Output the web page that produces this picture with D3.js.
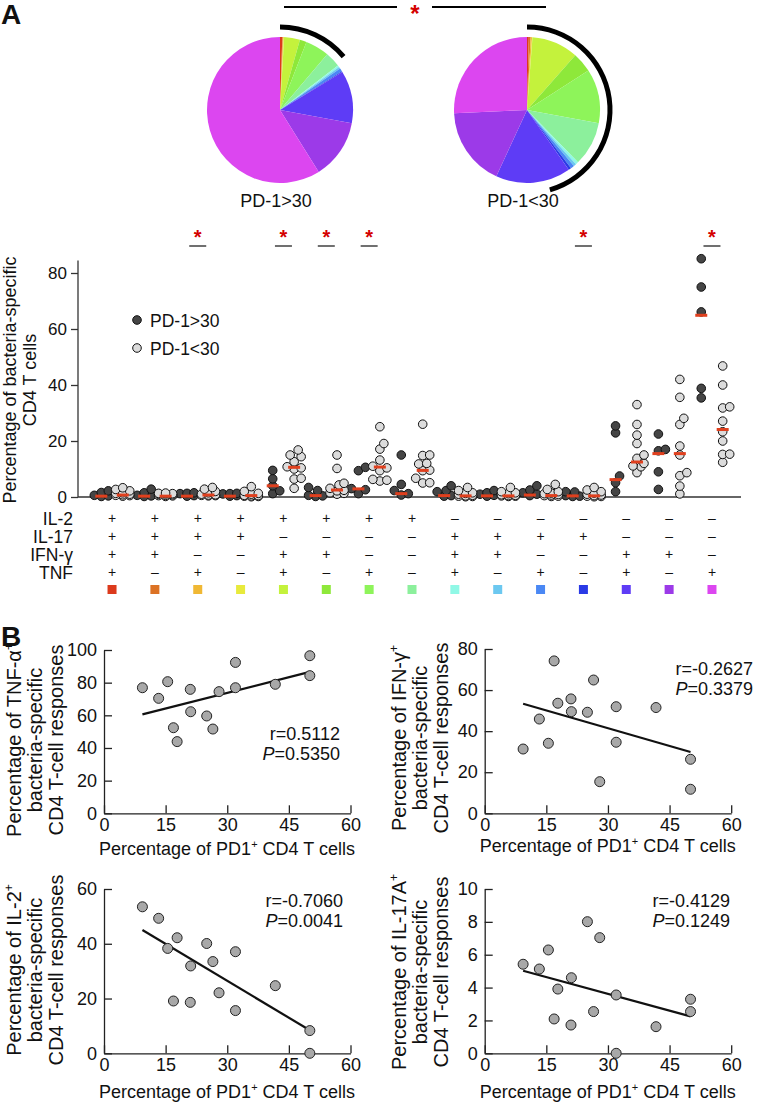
<!DOCTYPE html>
<html><head><meta charset="utf-8">
<script src="https://cdn.jsdelivr.net/npm/d3@7"></script>
<style>
body{margin:0;background:#fff}
svg text{font-family:"Liberation Sans",Arial,Helvetica,sans-serif;fill:#111}
</style>
</head><body>
<svg id="c" width="757" height="1105"></svg>
<script>
// ---------- DATA ----------
const rowLabels = ["IL-2","IL-17","IFN-γ","TNF"];
const il2  = ["+","+","+","+","+","+","+","+","–","–","–","–","–","–","–"];
const il17 = ["+","+","+","+","–","–","–","–","+","+","+","+","–","–","–"];
const ifng = ["+","+","–","–","+","+","–","–","+","+","–","–","+","+","–"];
const tnf  = ["+","–","+","–","+","–","+","–","+","–","+","–","+","–","+"];
const colors = ["#dc3a1c","#dc7224","#f0b834","#e8ea3c","#c4f23c","#8ee83a","#8ef45a","#8cf09c","#90f8e6","#6cc8f0","#4a88f4","#2a3ae6","#5e3cf6","#9c3ae8","#dc46f0"];
const groupNames = ["PD-1>30","PD-1<30"];
// pie shares (%) per category
const pieHigh = [0.5,0.15,0.15,0.1,3.5,1.5,5.3,3.4,0.4,0.4,0.7,0.2,11.6,13.2,58.9];
const pieLow  = [0.4,0.4,0.3,0.1,10.3,4.4,12.0,9.8,0.6,0.6,0.8,0.6,16.6,17.4,25.7];
// arc brackets over pies (degrees)
const bracketHigh = [0, 50];
const bracketLow  = [0, 164];
// dot plot values (% of bacteria-specific CD4 T cells)
const highValues = [
 [2.2,1.6,0.6,0.4,0.2],[2.8,1.5,0.6,0.4,0.2],[1.5,1.3,1.2,0.5,0.3],[1.3,1.2,1.1,0.5,0.3],
 [9.5,6.5,4.0,2.2,1.2],[3.4,2.3,0.6,0.4,0.2],[10.6,9.4,3.0,2.6,1.2],[15.0,4.5,2.3,1.2,0.7],
 [4.0,2.3,1.9,0.5,0.3],[2.3,1.5,1.0,0.6,0.3],[4.0,2.5,1.5,1.0,0.5],[1.9,1.8,0.5,0.3,0.2],
 [25.4,22.9,7.5,5.1,1.9],[22.5,17.0,16.5,9.0,2.7],[85.1,75.0,66.1,38.8,35.4]
];
const lowValues = [
 [3.3,2.7,2.2,1.5,1.3,1.0,0.8,0.6,0.5,0.3],[1.4,1.3,1.2,1.1,1.0,0.8,0.6,0.5,0.4,0.2],
 [3.4,2.8,2.0,1.5,1.0,0.8,0.7,0.6,0.5,0.4],[3.7,2.0,1.3,1.0,0.6,0.5,0.4,0.3,0.2,0.1],
 [16.8,15.0,14.4,12.6,10.8,10.4,10.0,6.7,6.4,3.1],[15.0,10.2,4.9,4.3,3.1,2.4,2.2,1.5,1.3,1.0],
 [25.1,19.1,17.1,13.2,11.0,10.4,9.4,6.3,6.0,5.7],[26.0,15.0,14.8,12.0,11.8,9.6,9.4,6.7,5.1,5.0],
 [3.4,2.3,1.5,1.3,1.0,0.6,0.4,0.3,0.2,0.1],[3.4,1.9,1.5,1.2,0.8,0.6,0.5,0.4,0.3,0.2],
 [4.5,2.7,1.9,1.4,1.2,0.9,0.7,0.5,0.3,0.2],[3.4,2.5,1.9,1.4,1.0,0.7,0.5,0.3,0.2,0.1],
 [33.0,25.9,22.1,19.1,15.0,13.8,12.0,11.1,10.8,8.7],[42.0,35.6,28.1,25.9,18.2,15.0,8.7,7.6,3.9,1.1],
 [46.8,40.0,32.2,31.8,27.1,23.3,20.0,15.3,15.2,12.4]
];
const medHigh = [0.3,0.3,0.3,0.3,4.0,0.5,2.9,1.2,0.5,0.4,0.7,0.4,6.2,15.5,64.9];
const medLow  = [0.7,0.3,0.7,0.5,10.6,2.5,10.7,9.5,0.4,0.4,0.5,0.4,12.5,15.5,24.1];
const sigGroups = [2,4,5,6,11,14];
const dotTicks = [0,20,40,60,80];
// Panel B
const pd1 = [9.35,13.3,15.5,16.9,17.8,21.0,21.1,25.0,26.5,28.0,32.0,32.0,41.7,50.1,50.1];
const tnfPos  = [76.9,70.4,80.6,52.4,43.9,75.9,62.2,59.6,51.6,74.5,92.4,76.9,79.0,96.5,84.3];
const ifnPos  = [31.3,45.9,34.1,74.2,53.6,55.7,49.5,49.2,64.9,15.4,51.9,34.6,51.5,26.3,11.7];
const il2Pos  = [53.5,49.3,38.3,19.1,42.2,18.6,31.9,40.1,33.5,22.1,37.1,15.6,24.7,8.3,0.0];
const il17Pos = [5.42,5.13,6.29,2.09,3.91,1.72,4.60,8.01,2.54,7.04,3.55,0.0,1.62,3.29,2.54];
const fitSlope = [0.639,-0.576,-0.898,-0.0681];
const fitIntercept = [54.6,58.7,53.4,5.66];
const rText = ["r=0.5112","r=-0.2627","r=-0.7060","r=-0.4129"];
const pText = ["=0.5350","=0.3379","=0.0041","=0.1249"];
const yMax = [100,80,60,10];
const yTicks = [[0,20,40,60,80,100],[0,20,40,60,80],[0,20,40,60],[0,2,4,6,8,10]];
const xTicks = [0,15,30,45,60];
const yNames = ["TNF-α","IFN-γ","IL-2","IL-17A"];

// ---------- DRAW ----------
const svg = d3.select("#c");
const FONT = "Liberation Sans, Arial, Helvetica, sans-serif";

// panel letters
svg.append("text").attr("x",1).attr("y",24).attr("font-size",28).attr("font-weight","bold").text("A");
svg.append("text").attr("x",1).attr("y",646).attr("font-size",28).attr("font-weight","bold").text("B");

// pies
const pie = d3.pie().sort(null).value(d=>d);
const arc = d3.arc().innerRadius(0).outerRadius(73);
const bracketArc = d3.arc().innerRadius(80.5).outerRadius(85.5);
const pieCenters = [[280,110],[527,110]];
[pieHigh,pieLow].forEach((vals,k)=>{
  const g = svg.append("g").attr("transform",`translate(${pieCenters[k][0]},${pieCenters[k][1]})`);
  g.selectAll("path").data(pie(vals)).join("path").attr("d",arc).attr("fill",(d,i)=>colors[i]);
  const b = k===0?bracketHigh:bracketLow;
  g.append("path").attr("d",bracketArc({startAngle:b[0]*Math.PI/180,endAngle:b[1]*Math.PI/180})).attr("fill","#000");
  svg.append("text").attr("x",pieCenters[k][0]-4).attr("y",207).attr("text-anchor","middle").attr("font-size",18).text(groupNames[k]);
});
// top significance
svg.append("line").attr("x1",284).attr("x2",397).attr("y1",7).attr("y2",7).attr("stroke","#000").attr("stroke-width",1.8);
svg.append("line").attr("x1",432).attr("x2",546).attr("y1",7).attr("y2",7).attr("stroke","#000").attr("stroke-width",1.8);
svg.append("text").attr("x",415).attr("y",22).attr("text-anchor","middle").attr("font-size",24).attr("font-weight","bold").style("fill","#d40000").text("*");

// dot plot
const gx = d3.scaleBand().domain(d3.range(15)).range([90.6,733.4]);
const cx = i=>gx(i)+gx.bandwidth()/2;
const off = gx.bandwidth()/4;
const y = d3.scaleLinear().domain([0,80]).range([497,273]);
const R = 4.3;

const yAx = svg.append("g").attr("transform","translate(78,0)")
  .call(d3.axisLeft(y).tickValues(dotTicks).tickSize(7).tickPadding(4).tickSizeOuter(0));
yAx.select(".domain").remove();
yAx.selectAll("line").attr("stroke","#333").attr("stroke-width",1.3);
yAx.selectAll("text").attr("font-size",17).attr("font-family",FONT).style("fill","#111");
svg.append("line").attr("x1",78).attr("x2",78).attr("y1",y(0)).attr("y2",y(84.5)).attr("stroke","#333").attr("stroke-width",1.3);
svg.append("line").attr("x1",78).attr("x2",741).attr("y1",y(0)).attr("y2",y(0)).attr("stroke","#333").attr("stroke-width",1.3);

// y label
[["Percentage of bacteria-specific",10],["CD4 T cells",30]].forEach(([t,x])=>{
  svg.append("text").attr("transform",`translate(${x},380) rotate(-90)`).attr("text-anchor","middle").attr("dy","0.35em").attr("font-size",18).text(t);
});

function swarm(vals, x0){
  const items = vals.map(v=>({v,y:y(v)})).sort((a,b)=>a.v-b.v);
  const placed=[];
  const cands=[0,4,-4,7,-7,2,-2];
  items.forEach(d=>{
    let best=0,bestOv=Infinity;
    for(const o of cands){
      let ov=0;
      for(const p of placed){const dist=Math.hypot(p.x-(x0+o),p.y-d.y); const lim=2*R*0.8; if(dist<lim) ov+=lim-dist;}
      if(ov<bestOv-1e-6){bestOv=ov;best=o;}
      if(ov===0)break;
    }
    d.x=x0+best; placed.push(d);
  });
  return items;
}
const dots = svg.append("g");
highValues.forEach((vals,i)=>{
  const pts = swarm(vals,cx(i)-off);
  dots.selectAll(null).data(pts).join("circle").attr("cx",d=>d.x).attr("cy",d=>d.y).attr("r",R)
    .attr("fill","#454545").attr("stroke","#111").attr("stroke-width",1);
});
lowValues.forEach((vals,i)=>{
  const pts = swarm(vals,cx(i)+off);
  dots.selectAll(null).data(pts).join("circle").attr("cx",d=>d.x).attr("cy",d=>d.y).attr("r",R)
    .attr("fill","#dcdcdc").attr("stroke","#111").attr("stroke-width",1);
});
// medians
const medG = svg.append("g");
medG.selectAll("rect.h").data(medHigh).join("rect").attr("x",(d,i)=>cx(i)-off-6).attr("y",d=>y(d)-1.5).attr("width",12).attr("height",3).attr("fill","#e0401e");
medG.selectAll("rect.l").data(medLow).join("rect").attr("x",(d,i)=>cx(i)+off-6).attr("y",d=>y(d)-1.5).attr("width",12).attr("height",3).attr("fill","#e0401e");

// significance per group
sigGroups.forEach(i=>{
  svg.append("line").attr("x1",cx(i)-8.5).attr("x2",cx(i)+8.5).attr("y1",246).attr("y2",246).attr("stroke","#222").attr("stroke-width",1.3);
  svg.append("text").attr("x",cx(i)).attr("y",244).attr("text-anchor","middle").attr("font-size",20).attr("font-weight","bold").style("fill","#d40000").text("*");
});

// legend
[[groupNames[0],"#454545",320],[groupNames[1],"#dcdcdc",348]].forEach(([t,c,yy])=>{
  svg.append("circle").attr("cx",137).attr("cy",yy).attr("r",R).attr("fill",c).attr("stroke","#111");
  svg.append("text").attr("x",150).attr("y",yy+6.5).attr("font-size",17.5).text(t);
});

// table
const rows = [il2,il17,ifng,tnf];
const rowY = [518,536,554,572];
rows.forEach((r,k)=>{
  svg.append("text").attr("x",73).attr("y",rowY[k]+6.5).attr("text-anchor","end").attr("font-size",17.5).text(rowLabels[k]);
  svg.selectAll(null).data(r).join("text").attr("x",(d,i)=>cx(i)).attr("y",rowY[k]+5).attr("text-anchor","middle").attr("font-size",14).text(d=>d);
});
svg.selectAll("rect.sq").data(colors).join("rect").attr("x",(d,i)=>cx(i)-4.5).attr("y",585).attr("width",9).attr("height",9).attr("fill",d=>d);

// ---------- Panel B ----------
const panels = [
  {x0:104,yb:813.3,yt:650,vals:tnfPos,rx:340,ry:740,lx:[14,35,56],lcy:740,xlab:855},
  {x0:484.7,yb:813.3,yt:649,vals:ifnPos,rx:753,ry:675,lx:[399,420,441],lcy:738,xlab:852},
  {x0:104,yb:1053.3,yt:889,vals:il2Pos,rx:343,ry:907,lx:[14,35,56],lcy:970,xlab:1098},
  {x0:484.7,yb:1053.3,yt:889,vals:il17Pos,rx:730,ry:907,lx:[399,420,441],lcy:972,xlab:1098}
];
panels.forEach((p,k)=>{
  const xs = d3.scaleLinear().domain([0,60]).range([p.x0,p.x0+246.5]);
  const ys = d3.scaleLinear().domain([0,yMax[k]]).range([p.yb,p.yt]);
  const g = svg.append("g");
  const ax = g.append("g").attr("transform",`translate(0,${p.yb})`)
    .call(d3.axisBottom(xs).tickValues(xTicks).tickSizeInner(-8).tickSizeOuter(0).tickPadding(5));
  const ay = g.append("g").attr("transform",`translate(${p.x0},0)`)
    .call(d3.axisLeft(ys).tickValues(yTicks[k]).tickSizeInner(-8).tickSizeOuter(0).tickPadding(7));
  [ax,ay].forEach(a=>{
    a.selectAll("path,line").attr("stroke","#222").attr("stroke-width",1.3);
    a.selectAll("text").attr("font-size",18).attr("font-family",FONT).style("fill","#111");
  });
  // fit line
  const x1=d3.min(pd1), x2=d3.max(pd1);
  g.append("line").attr("x1",xs(x1)).attr("x2",xs(x2))
    .attr("y1",ys(fitIntercept[k]+fitSlope[k]*x1)).attr("y2",ys(fitIntercept[k]+fitSlope[k]*x2))
    .attr("stroke","#111").attr("stroke-width",2.2);
  g.selectAll("circle").data(p.vals).join("circle").attr("cx",(d,i)=>xs(pd1[i])).attr("cy",d=>ys(d)).attr("r",5)
    .attr("fill","#a8a8a8").attr("stroke","#222").attr("stroke-width",1);
  g.append("text").attr("x",p.rx).attr("y",p.ry).attr("text-anchor","end").attr("font-size",18).text(rText[k]);
  const pt = g.append("text").attr("x",p.rx).attr("y",p.ry+20).attr("text-anchor","end").attr("font-size",18);
  pt.append("tspan").attr("font-style","italic").text("P");
  pt.append("tspan").text(pText[k]);
  // x label
  const xl = g.append("text").attr("x",p.x0+123).attr("y",p.xlab).attr("text-anchor","middle").attr("font-size",18);
  xl.append("tspan").text("Percentage of PD1");
  xl.append("tspan").attr("font-size",11).attr("dy",-7).text("+");
  xl.append("tspan").attr("dy",7).text(" CD4 T cells");
  // y label
  const l1 = g.append("text").attr("transform",`translate(${p.lx[0]},${p.lcy}) rotate(-90)`).attr("text-anchor","middle").attr("dy","0.35em").attr("font-size",20);
  l1.append("tspan").text("Percentage of "+yNames[k]);
  l1.append("tspan").attr("font-size",12).attr("dy",-8).text("+");
  g.append("text").attr("transform",`translate(${p.lx[1]},${p.lcy}) rotate(-90)`).attr("text-anchor","middle").attr("dy","0.35em").attr("font-size",20).text("bacteria-specific");
  g.append("text").attr("transform",`translate(${p.lx[2]},${p.lcy}) rotate(-90)`).attr("text-anchor","middle").attr("dy","0.35em").attr("font-size",20).text("CD4 T-cell responses");
});
</script>
</body></html>
